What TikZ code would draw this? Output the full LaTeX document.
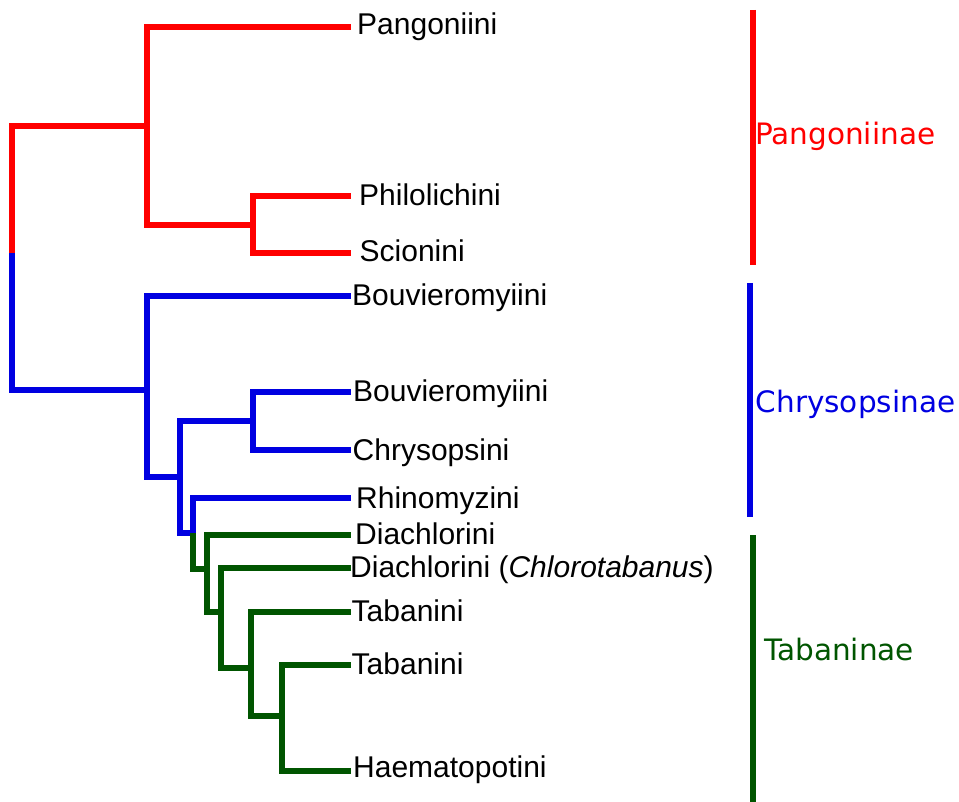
\documentclass[tikz,border=0pt]{standalone}
\usepackage{fontspec}
\setmainfont{Liberation Sans}
\newfontfamily\dvsans{DejaVu Sans}
\definecolor{cred}{RGB}{255,0,0}
\definecolor{cblue}{RGB}{0,0,225}
\definecolor{cgreen}{RGB}{0,85,0}
\begin{document}
\begin{tikzpicture}[x=1pt,y=-1pt,
  branch/.style={line width=6pt, line join=miter},
  bar/.style={line width=6.5pt},
  leaf/.style={anchor=base west, inner sep=0pt, font=\fontsize{30}{35}\selectfont},
  clade/.style={anchor=base west, inner sep=0pt, font=\dvsans\fontsize{29.5}{34}\selectfont}]
\useasboundingbox (0,0) rectangle (959,802);
% internal nodes
\coordinate (root) at (12,253);
\coordinate (R)  at (147,126);
\coordinate (R2) at (253,225);
\coordinate (B)  at (147,390);
\coordinate (B2) at (180,477);
\coordinate (B3) at (253,421);
\coordinate (B4) at (193,533);
\coordinate (G1) at (207,569);
\coordinate (G2) at (221,612);
\coordinate (G3) at (251,668);
\coordinate (G4) at (282,716);
% leaf tips
\coordinate (tPang) at (351,27);
\coordinate (tPhil) at (351,196);
\coordinate (tScio) at (351,253);
\coordinate (tBouA) at (351,296);
\coordinate (tBouB) at (351,392);
\coordinate (tChry) at (351,450);
\coordinate (tRhin) at (351,498);
\coordinate (tDiac) at (351,535);
\coordinate (tChlo) at (351,568);
\coordinate (tTabA) at (351,612);
\coordinate (tTabB) at (351,665);
\coordinate (tHaem) at (351,771);
% leaf labels
\node[leaf] (lPang) at (357,35) {Pangoniini};
\node[leaf] (lPhil) at (359,206) {Philolichini};
\node[leaf] (lScio) at (359.5,262) {Scionini};
\node[leaf] (lBouA) at (352,306) {Bouvieromyiini};
\node[leaf] (lBouB) at (353,402) {Bouvieromyiini};
\node[leaf] (lChry) at (352.5,460) {Chrysopsini};
\node[leaf] (lRhin) at (356,508) {Rhinomyzini};
\node[leaf] (lDiac) at (355,544) {Diachlorini};
\node[leaf] (lChlo) at (350,577) {Diachlorini (\textit{Chlorotabanus})};
\node[leaf] (lTabA) at (351.5,621) {Tabanini};
\node[leaf] (lTabB) at (351.5,674) {Tabanini};
\node[leaf] (lHaem) at (353,777) {Haematopotini};
% red branches
\draw[branch,cred] (root) |- (R);
\draw[branch,cred] (R) |- (tPang);
\draw[branch,cred] (R) |- (R2);
\draw[branch,cred] (R2) |- (tPhil);
\draw[branch,cred] (R2) |- (tScio);
% blue branches
\draw[branch,cblue] (root) |- (B);
\draw[branch,cblue] (B) |- (tBouA);
\draw[branch,cblue] (B) |- (B2);
\draw[branch,cblue] (B2) |- (B3);
\draw[branch,cblue] (B3) |- (tBouB);
\draw[branch,cblue] (B3) |- (tChry);
\draw[branch,cblue] (B2) |- (B4);
\draw[branch,cblue] (B4) |- (tRhin);
% green branches
\draw[branch,cgreen] (B4) |- (G1);
\draw[branch,cgreen] (G1) |- (tDiac);
\draw[branch,cgreen] (G1) |- (G2);
\draw[branch,cgreen] (G2) |- (tChlo);
\draw[branch,cgreen] (G2) |- (G3);
\draw[branch,cgreen] (G3) |- (tTabA);
\draw[branch,cgreen] (G3) |- (G4);
\draw[branch,cgreen] (G4) |- (tTabB);
\draw[branch,cgreen] (G4) |- (tHaem);
% clade bars
\coordinate (pT) at (753,10);  \coordinate (pB) at (753,265);
\coordinate (cT) at (750,283); \coordinate (cB) at (750,517);
\coordinate (tT) at (753,535); \coordinate (tB) at (753,805);
\draw[bar,cred] (pT) -- (pB);
\draw[bar,cblue] (cT) -- (cB);
\draw[bar,cgreen] (tT) -- (tB);
\node[clade,text=cred] (nPang) at (755,145) {Pangoniinae};
\node[clade,text=cblue] (nChry) at (755.5,412) {Chrysopsinae};
\node[clade,text=cgreen] (nTaba) at (764,660) {Tabaninae};
\end{tikzpicture}
\end{document}
